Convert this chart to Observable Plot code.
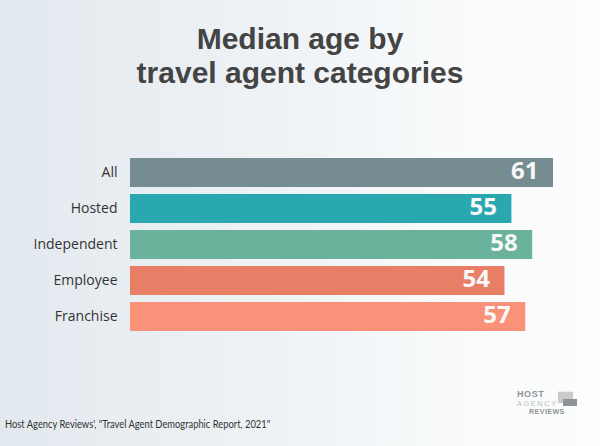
<!DOCTYPE html>
<html>
<head>
<meta charset="utf-8">
<script src="https://cdn.jsdelivr.net/npm/d3@7"></script>
<script src="https://cdn.jsdelivr.net/npm/@observablehq/plot@0.6"></script>
<style>
  html, body { margin: 0; padding: 0; }
  #page {
    position: relative;
    width: 600px;
    height: 446px;
    overflow: hidden;
    font-family: "Open Sans", sans-serif;
    background: linear-gradient(90deg, #e2e9ee 0%, #e9eef2 25%, #f0f3f6 50%, #f8fafb 75%, #fcfdfd 100%);
  }
  .title-line {
    position: absolute;
    left: 0; width: 600px; height: 34px;
    text-align: center;
    font-family: "Liberation Sans", Arial, sans-serif;
    font-size: 30px;
    line-height: 34px;
    font-weight: 700;
    color: #444;
    white-space: nowrap;
  }
  #chart { position: absolute; left: 0; top: 140px; }
  #source {
    position: absolute;
    left: 5px; top: 418px;
    font-family: Lato, sans-serif;
    font-size: 11px;
    line-height: 11px;
    color: #333;
    white-space: nowrap;
    transform: scaleX(0.85);
    transform-origin: 0 0;
  }
  #logo { position: absolute; left: 512px; top: 384px; }
</style>
</head>
<body>
<div id="page">
  <div class="title-line" style="top: 22px">Median age by</div>
  <div class="title-line" style="top: 56px">travel agent categories</div>
  <div id="chart"></div>
  <div id="source">Host Agency Reviews', "Travel Agent Demographic Report, 2021"</div>
  <svg id="logo" width="76" height="34" viewBox="0 0 76 34">
    <rect x="46" y="7.7" width="15" height="11.3" fill="#c8cacc"/>
    <rect x="51" y="15" width="14" height="7" fill="#8f9396"/>
    <text x="5" y="12.8" font-family="Liberation Sans, Arial, sans-serif" font-weight="700" font-size="9" fill="#8e9296" letter-spacing="0.6">HOST</text>
    <text x="5" y="21.8" font-family="Liberation Sans, Arial, sans-serif" font-size="7.5" fill="#bcc0c3" letter-spacing="1.5">AGENCY</text>
    <text x="17" y="30" font-family="Liberation Sans, Arial, sans-serif" font-weight="700" font-size="7" fill="#8e9296" letter-spacing="0.5">REVIEWS</text>
  </svg>
</div>
<script>
// Median age of travel agents, by agent category
const categories = ["All", "Hosted", "Independent", "Employee", "Franchise"];
const medianAges = [61, 55, 58, 54, 57];
const barColors = ["#758d91", "#2aa8b0", "#6ab29b", "#e87e66", "#f99279"];

const rows = categories.map((category, i) => ({category, age: medianAges[i]}));

const chart = Plot.plot({
  width: 600,
  height: 210,
  marginTop: 9,
  marginBottom: 9,
  marginLeft: 130,
  marginRight: 47,
  style: {
    background: "transparent",
    fontFamily: "Open Sans, sans-serif",
    fontSize: "14px",
    color: "#333"
  },
  x: {domain: [0, d3.max(medianAges)], axis: null},
  y: {domain: categories, padding: 0.19, label: null, tickSize: 0, tickPadding: 13},
  color: {domain: categories, range: barColors},
  marks: [
    Plot.barX(rows, {x: "age", y: "category", fill: "category"}),
    Plot.text(rows, {
      x: "age",
      y: "category",
      text: (d) => String(d.age),
      textAnchor: "end",
      dx: -15,
      dy: -2,
      fill: "#f8f8f8",
      fontSize: 24,
      fontWeight: 700
    })
  ]
});

document.getElementById("chart").appendChild(chart);
</script>
</body>
</html>
